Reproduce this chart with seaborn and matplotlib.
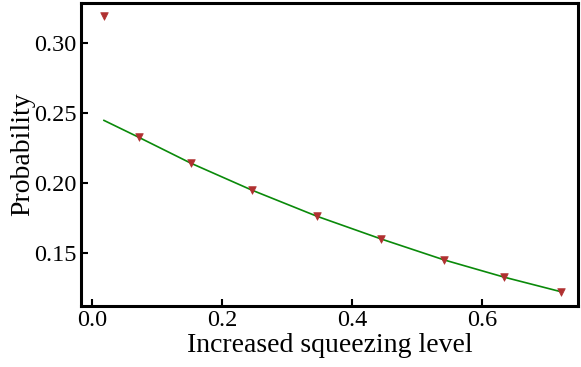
import matplotlib
matplotlib.use("Agg")
import matplotlib.pyplot as plt
import seaborn as sns
import pandas as pd

# data
squeeze = [0.018, 0.072, 0.152, 0.246, 0.346, 0.445, 0.542, 0.634, 0.722]
prob = [0.3194, 0.2328, 0.2143, 0.1950, 0.1763, 0.1600, 0.1450, 0.1327, 0.1222]
fit = [0.2450, 0.2328, 0.2143, 0.1950, 0.1763, 0.1600, 0.1450, 0.1327, 0.1222]
xticks = [0.0, 0.2, 0.4, 0.6]
yticks = [0.15, 0.20, 0.25, 0.30]

sns.set_theme(style="ticks")
plt.rcParams['font.family'] = ['Liberation Serif', 'DejaVu Serif']
plt.rcParams['mathtext.fontset'] = 'stix'

df = pd.DataFrame({"x": squeeze, "p": prob, "f": fit})

fig = plt.figure(figsize=(5.81, 3.67), dpi=100)
ax = fig.add_axes([81/581, 1 - 306/367, (578-81)/581, (306-3)/367])

sns.lineplot(data=df, x="x", y="f", ax=ax, color="#0a8a0a", linewidth=1.2)
sns.scatterplot(data=df, x="x", y="p", ax=ax, marker="v", color="#b03030",
                s=30, edgecolor="#b03030", linewidth=0.5, zorder=3)

ax.set_xlim(-0.017, 0.748)
ax.set_ylim(0.112, 0.329)
ax.set_xticks(xticks)
ax.set_xticklabels([f"{t:.1f}" for t in xticks])
ax.set_yticks(yticks)
ax.set_yticklabels([f"{t:.2f}" for t in yticks])
ax.tick_params(direction="in", length=5, width=1.5, labelsize=17.5, color="black",
               labelcolor="black", top=False, right=False, pad=3)
for s in ax.spines.values():
    s.set_linewidth(2.2)
    s.set_color("black")
ax.set_xlabel("Increased squeezing level", fontsize=20, color="black", labelpad=1)
ax.set_ylabel("Probability", fontsize=20, color="black", labelpad=-1)

fig.savefig("out.png", dpi=100)
